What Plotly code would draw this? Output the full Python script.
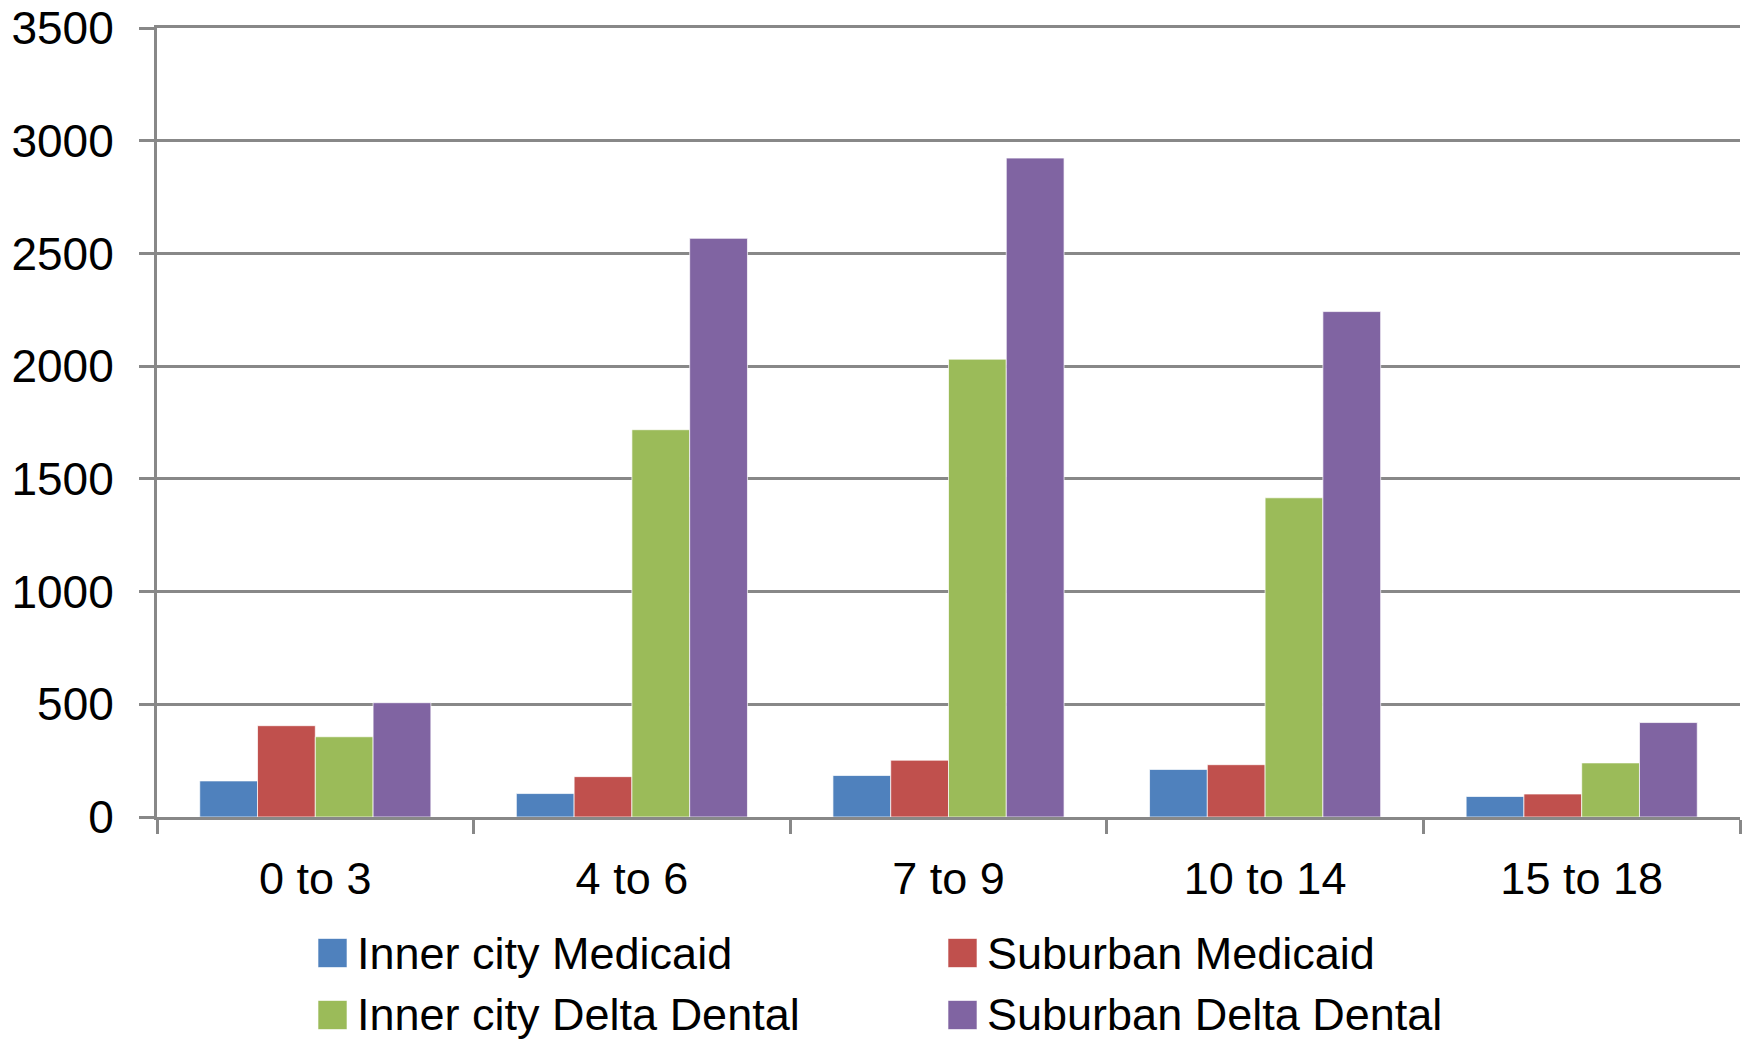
import plotly.graph_objects as go

categories = ["0 to 3", "4 to 6", "7 to 9", "10 to 14", "15 to 18"]
inner_city_medicaid = [160, 104, 184, 211, 91]
suburban_medicaid = [405, 179, 252, 232, 102]
inner_city_delta = [356, 1718, 2031, 1416, 240]
suburban_delta = [507, 2567, 2923, 2242, 419]

series_names = ["Inner city Medicaid", "Suburban Medicaid",
                "Inner city Delta Dental", "Suburban Delta Dental"]
series_values = [inner_city_medicaid, suburban_medicaid, inner_city_delta, suburban_delta]
colors = ["#4F81BD", "#C0504D", "#9BBB59", "#8064A2"]
y_ticks = [0, 500, 1000, 1500, 2000, 2500, 3000, 3500]

FONT = "Liberation Sans, Arial, sans-serif"
GRID = "#888888"
W, H = 1743, 1042
# plot area in page pixels: left 157, right 1740, top 28, bottom 817
ML, MR, MT = 157, 3, 28
MB = H - 817
PW, PH = W - ML - MR, H - MT - MB


def px_x(px):  # page pixel -> paper
    return (px - ML) / PW


def px_y(py):
    return (H - MB - py) / PH


fig = go.Figure()
for name, vals, col in zip(series_names, series_values, colors):
    fig.add_trace(go.Bar(
        x=categories, y=vals, name=name, showlegend=False,
        marker=dict(color=col, line=dict(color="rgba(255,255,255,0.7)", width=1)),
    ))

# legend laid out as in the reference: 2 columns x 2 rows with large squares
legend_cols = [318, 948]
legend_rows = [953, 1015]
sq = 29
for i, (name, col) in enumerate(zip(series_names, colors)):
    cx = legend_cols[i % 2]
    cy = legend_rows[i // 2]
    fig.add_shape(type="rect", xref="paper", yref="paper",
                  x0=px_x(cx), x1=px_x(cx + sq),
                  y0=px_y(cy + sq / 2), y1=px_y(cy - sq / 2),
                  fillcolor=col, line=dict(color="rgba(255,255,255,0.6)", width=1))
    fig.add_annotation(xref="paper", yref="paper", x=px_x(cx + 37), y=px_y(cy),
                       xanchor="left", yanchor="middle", showarrow=False,
                       text=name, font=dict(family=FONT, size=45, color="black"))

fig.update_layout(
    width=W, height=H,
    paper_bgcolor="white", plot_bgcolor="white",
    barmode="group", bargap=0.27, bargroupgap=0,
    margin=dict(l=ML, r=MR, t=MT, b=MB, autoexpand=False),
    font=dict(family=FONT, size=45, color="black"),
    showlegend=False,
)
fig.update_xaxes(
    type="category", showline=True, linecolor=GRID, linewidth=3, mirror=True,
    ticks="outside", tickson="boundaries", ticklen=14, tickwidth=3, tickcolor=GRID,
    showgrid=False, ticklabelstandoff=20, automargin=False,
    tickfont=dict(family=FONT, size=45, color="black"),
)
fig.update_yaxes(
    range=[0, 3500], tickvals=y_ticks, ticktext=[str(v) for v in y_ticks],
    showline=True, linecolor=GRID, linewidth=3,
    ticks="outside", ticklen=15, tickwidth=3, tickcolor=GRID,
    showgrid=True, gridcolor=GRID, gridwidth=3, zeroline=False,
    ticklabelstandoff=16, automargin=False, ticklabeloverflow="allow",
    tickfont=dict(family=FONT, size=46, color="black"),
)

fig.write_html(
    "out.html",
    config={"displayModeBar": False},
    post_script="document.body.style.margin='0';document.body.style.overflow='hidden';",
)
